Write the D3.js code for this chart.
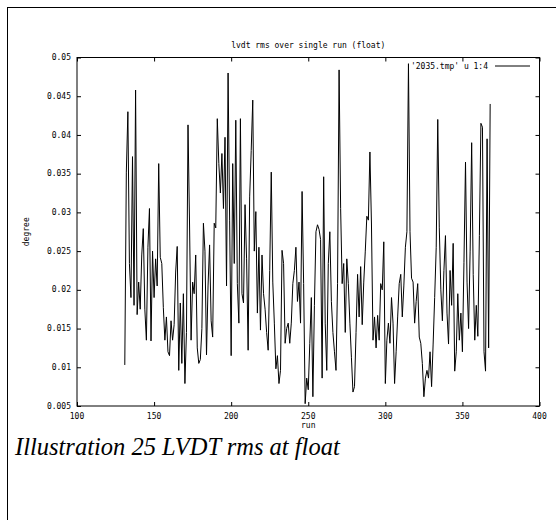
<!DOCTYPE html>
<html>
<head>
<meta charset="utf-8">
<script src="https://cdn.jsdelivr.net/npm/d3@7"></script>
<style>
html,body{margin:0;padding:0;background:#fff;}
svg{display:block;}
.gp{font-family:"DejaVu Sans Mono",monospace;font-size:8px;fill:#000;}
</style>
</head>
<body>
<svg id="chart" width="556" height="520"></svg>
<script>
// ---- data ----
const firstRun = 131;
const rms = [
0.0103,0.0352,0.043,0.0234,0.019,0.0372,0.018,0.0458,0.0168,0.021,
0.0175,0.0245,0.0279,0.0175,0.0135,0.0255,0.0305,0.0134,0.025,0.019,
0.024,0.0205,0.0363,0.0242,0.0234,0.0177,0.0135,0.0165,0.012,0.0115,
0.016,0.0135,0.0155,0.0223,0.0256,0.0096,0.0183,0.0105,0.0195,0.0079,
0.0145,0.0413,0.0285,0.0135,0.021,0.0195,0.0245,0.0125,0.0105,0.011,
0.015,0.0286,0.025,0.0116,0.0205,0.0258,0.016,0.0139,0.0286,0.028,
0.0421,0.0363,0.0325,0.0376,0.0305,0.0397,0.0205,0.048,0.029,0.0115,
0.0363,0.0234,0.0419,0.0208,0.0157,0.0421,0.0195,0.0183,0.031,0.024,
0.0122,0.032,0.038,0.0445,0.025,0.0301,0.017,0.0255,0.0148,0.0245,
0.0195,0.0175,0.0145,0.0122,0.0225,0.0352,0.021,0.0157,0.0098,0.0115,
0.0079,0.0096,0.0251,0.0234,0.0131,0.015,0.0157,0.0131,0.0157,0.0208,
0.0225,0.0255,0.0185,0.021,0.0157,0.0327,0.0208,0.0053,0.0086,0.0071,
0.0131,0.019,0.0062,0.018,0.0275,0.0284,0.0278,0.0265,0.0086,0.0346,
0.0157,0.0096,0.0234,0.0275,0.0185,0.0145,0.012,0.0096,0.0208,0.0484,
0.0305,0.0208,0.0234,0.0145,0.024,0.0208,0.0157,0.0113,0.0068,0.0075,
0.0145,0.022,0.0165,0.023,0.0155,0.021,0.025,0.0295,0.029,0.0378,
0.0285,0.0135,0.0165,0.0125,0.0167,0.0135,0.0208,0.02,0.0262,0.0079,
0.0135,0.0157,0.0131,0.019,0.0157,0.0079,0.012,0.0165,0.0208,0.022,
0.0165,0.0205,0.0255,0.0275,0.0492,0.0275,0.0215,0.021,0.0157,0.0185,
0.0208,0.0139,0.0131,0.0105,0.0062,0.0086,0.0096,0.0086,0.012,0.0075,
0.013,0.019,0.0255,0.042,0.028,0.02,0.016,0.0225,0.027,0.017,
0.013,0.0225,0.018,0.026,0.0095,0.012,0.0195,0.0135,0.017,0.012,
0.0235,0.0365,0.021,0.015,0.025,0.039,0.022,0.0135,0.018,0.014,
0.027,0.0415,0.041,0.012,0.0095,0.0395,0.0125,0.044
];
const runs = rms.map((_, i) => firstRun + i);
const xTicks = [100,150,200,250,300,350,400];
const yTicks = [0.005,0.01,0.015,0.02,0.025,0.03,0.035,0.04,0.045,0.05];
const titleText = "lvdt rms over single run (float)";
const xLabel = "run";
const yLabel = "degree";
const legendText = "'2035.tmp' u 1:4";
const captionText = "Illustration 25 LVDT rms at float";

// ---- layout ----
const svg = d3.select("#chart");
const L = 77, R = 539.5, T = 57.5, B = 406;
const x = d3.scaleLinear().domain([100,400]).range([L,R]);
const y = d3.scaleLinear().domain([0.005,0.05]).range([B,T]);

// page border
svg.append("line").attr("x1",7.5).attr("x2",7.5).attr("y1",7).attr("y2",520).attr("stroke","#000").attr("stroke-width",1);
svg.append("line").attr("x1",7).attr("x2",556).attr("y1",7.5).attr("y2",7.5).attr("stroke","#000").attr("stroke-width",1);

// frame
svg.append("rect").attr("x",L).attr("y",T).attr("width",R-L).attr("height",B-T)
  .attr("fill","none").attr("stroke","#000").attr("stroke-width",1);

const tl = 4;
const fmtY = d => d3.format("")(+d.toFixed(3));
const yAxisL = d3.axisRight(y).tickValues(yTicks).tickSize(tl).tickFormat("");
const yAxisR = d3.axisLeft(y).tickValues(yTicks).tickSize(tl).tickFormat("");
const gyl = svg.append("g").attr("transform",`translate(${L},0)`).call(yAxisL);
const gyr = svg.append("g").attr("transform",`translate(${R},0)`).call(yAxisR);
const xAxisB = d3.axisTop(x).tickValues(xTicks).tickSize(tl).tickFormat("");
const xAxisT = d3.axisBottom(x).tickValues(xTicks).tickSize(tl).tickFormat("");
const gxb = svg.append("g").attr("transform",`translate(0,${B})`).call(xAxisB);
const gxt = svg.append("g").attr("transform",`translate(0,${T})`).call(xAxisT);
[gyl,gyr,gxb,gxt].forEach(g=>{g.select(".domain").remove();g.selectAll("line").attr("stroke","#000");});

// tick labels
svg.append("g").selectAll("text").data(yTicks).join("text")
  .attr("class","gp").attr("x",L-6).attr("y",d=>y(d)).attr("dy","0.32em")
  .attr("text-anchor","end").text(d=>fmtY(d));
svg.append("g").selectAll("text").data(xTicks).join("text")
  .attr("class","gp").attr("x",d=>x(d)).attr("y",B+13)
  .attr("text-anchor","middle").text(d=>d);

// titles
svg.append("text").attr("class","gp").attr("x",(L+R)/2).attr("y",T-10).attr("text-anchor","middle").text(titleText);
svg.append("text").attr("class","gp").attr("x",(L+R)/2).attr("y",B+22).attr("text-anchor","middle").text(xLabel);
svg.append("text").attr("class","gp").attr("transform",`translate(29,${(T+B)/2}) rotate(-90)`).attr("text-anchor","middle").text(yLabel);

// legend
svg.append("text").attr("class","gp").attr("x",488).attr("y",T+11).attr("text-anchor","end").text(legendText);
svg.append("line").attr("x1",495).attr("x2",530).attr("y1",T+8.5).attr("y2",T+8.5).attr("stroke","#000");

// data line
const line = d3.line().x((d,i)=>x(runs[i])).y(d=>y(d));
svg.append("path").datum(rms).attr("d",line).attr("fill","none").attr("stroke","#000").attr("stroke-width",1);

// caption
svg.append("text").attr("x",15).attr("y",455)
  .style("font-family","'Liberation Serif','Times New Roman',serif").style("font-style","italic").style("font-size","24.5px")
  .text(captionText);
</script>
</body>
</html>
